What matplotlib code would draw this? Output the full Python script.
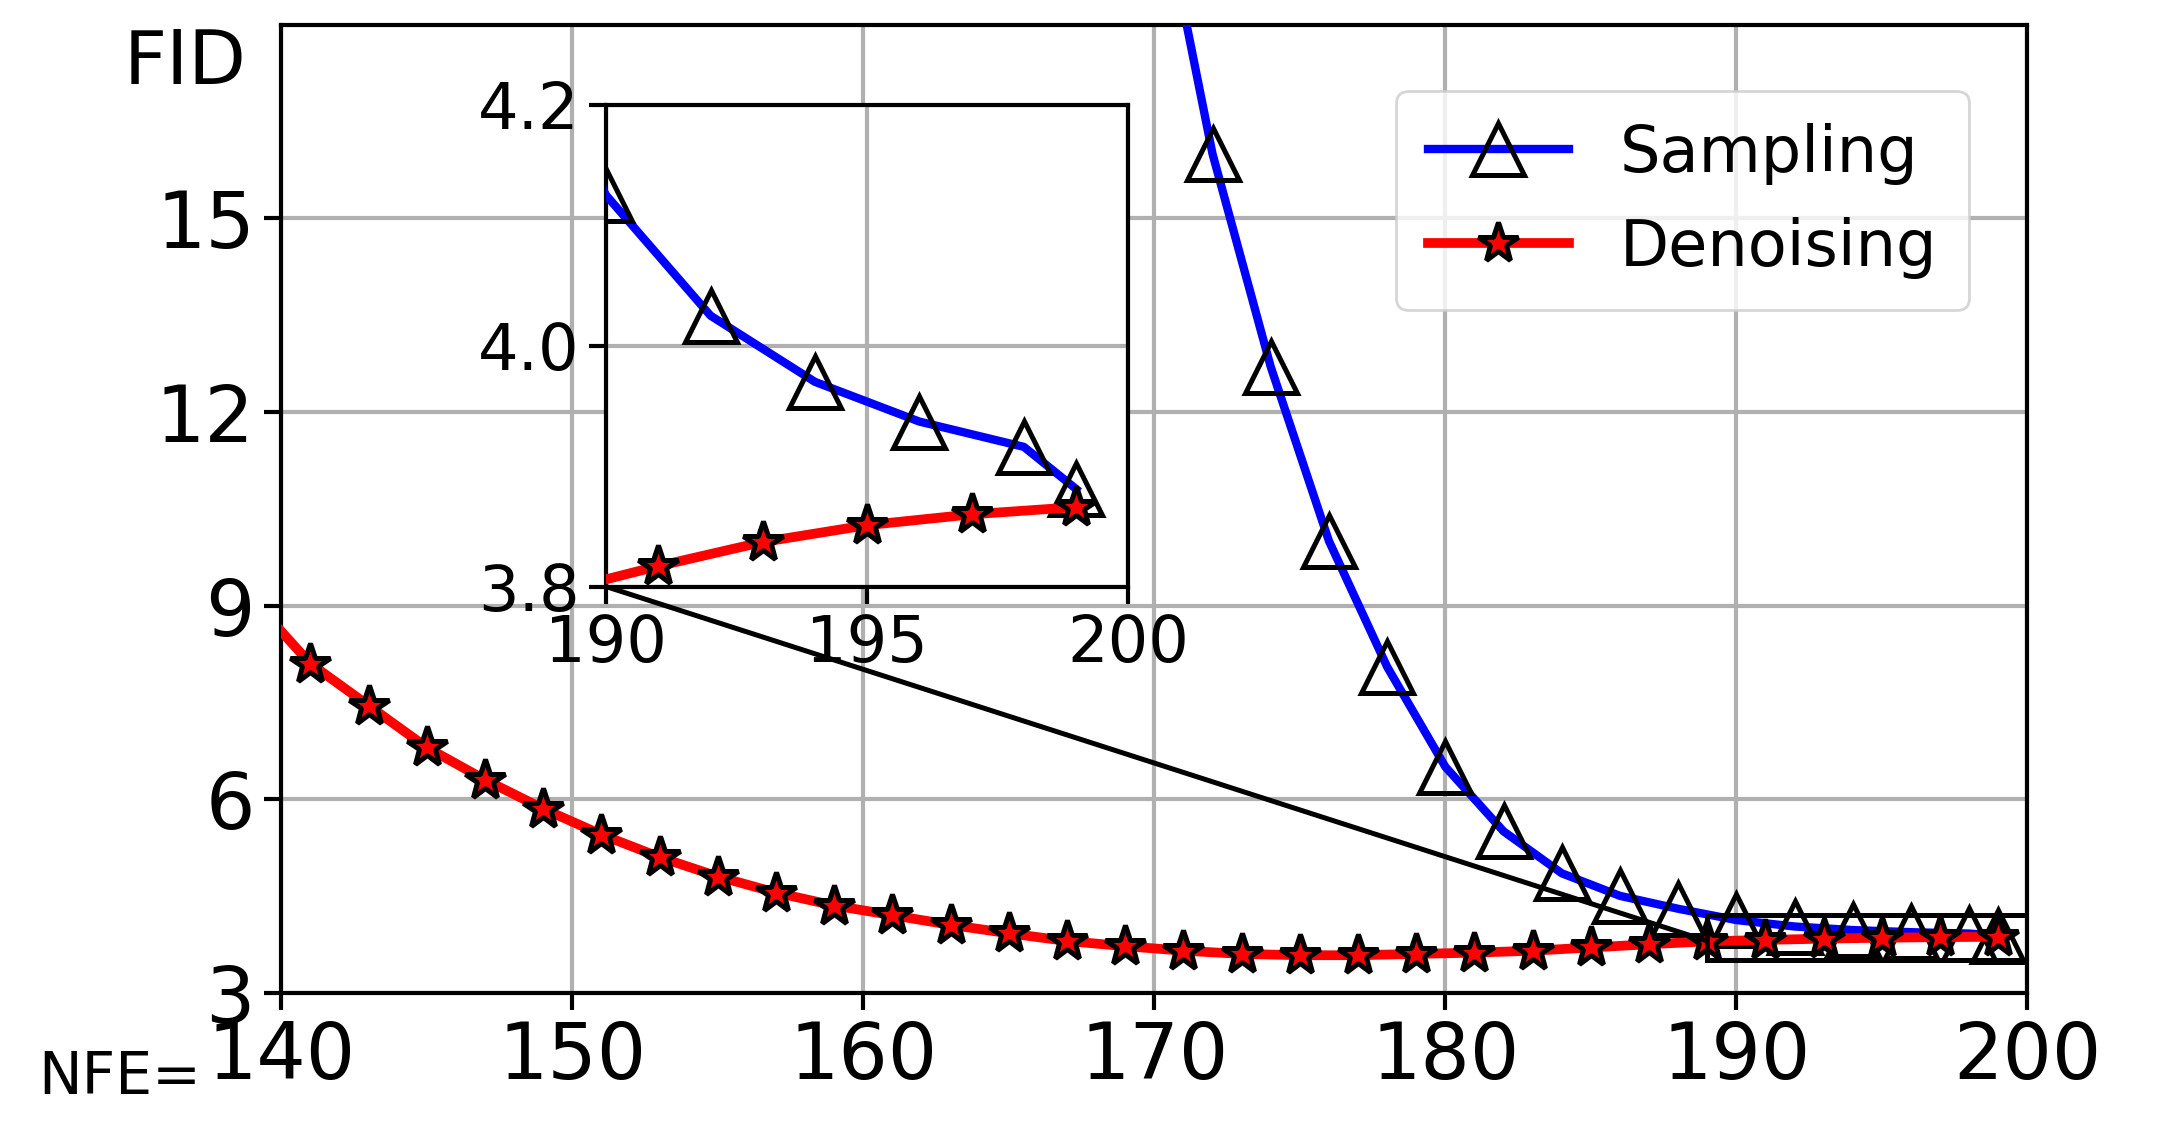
import matplotlib
matplotlib.use("Agg")
import matplotlib.pyplot as plt
from matplotlib.patches import Rectangle, ConnectionPatch

den_x = [140, 141, 143, 145, 147, 149, 151, 153, 155, 157, 159, 161, 163, 165, 167, 169,
         171, 173, 175, 177, 179, 181, 183, 185, 187, 189, 191, 193, 195, 197, 199]
den_y = [8.6, 8.1, 7.45, 6.8, 6.3, 5.85, 5.45, 5.1, 4.8, 4.55, 4.35, 4.2, 4.05, 3.92, 3.8, 3.72,
         3.65, 3.6, 3.58, 3.58, 3.6, 3.62, 3.65, 3.7, 3.75, 3.795, 3.817, 3.837, 3.851, 3.86, 3.866]
samp_x = [170, 172, 174, 176, 178, 180, 182, 184, 186, 188, 190, 192, 194, 196, 198, 199]
samp_y = [20.5, 16.0, 12.7, 10.0, 8.05, 6.5, 5.5, 4.85, 4.5, 4.3, 4.125, 4.025, 3.97, 3.937, 3.916, 3.881]
xticks = [140, 150, 160, 170, 180, 190, 200]
xticklabels = ["140", "150", "160", "170", "180", "190", "200"]
yticks = [3, 6, 9, 12, 15]

fig = plt.figure(figsize=(10.9, 5.64), dpi=200)
ax = fig.add_axes([0.129, 0.12, 0.801, 0.858])

def draw(a, ms_t, ms_s):
    a.plot(samp_x, samp_y, color="blue", lw=3, marker="^", ms=ms_t, mfc="none", mec="black",
           mew=1.8, markevery=slice(1, None), label="Sampling", zorder=3)
    a.plot(den_x, den_y, color="red", lw=3.5, marker="*", ms=ms_s, mfc="red", mec="black",
           mew=1.8, markevery=slice(1, None), label="Denoising", zorder=3)

draw(ax, 19, 15)
ax.set_xlim(140, 200)
ax.set_ylim(3, 18)
ax.set_xticks(xticks)
ax.set_xticklabels(xticklabels)
ax.set_yticks(yticks)
ax.tick_params(labelsize=28, width=1.5, length=6)
ax.grid(True, color="#b0b0b0", lw=1.5)
for s in ax.spines.values():
    s.set_linewidth(1.5)
ax.text(-0.02, 0.96, "FID", transform=ax.transAxes, ha="right", va="center", fontsize=27)
ax.text(-0.046, -0.088, "NFE=", transform=ax.transAxes, ha="right", va="center", fontsize=21)
leg = ax.legend(loc="upper right", fontsize=23, borderpad=0.5, handlelength=2.2, framealpha=0.8,
                bbox_to_anchor=(0.985, 0.965))

axins = fig.add_axes([0.278, 0.48, 0.2396, 0.427])
draw(axins, 19, 15)
axins.set_xlim(190, 200)
axins.set_ylim(3.8, 4.2)
axins.set_xticks([190, 195, 200])
axins.set_yticks([3.8, 4.0, 4.2])
axins.tick_params(labelsize=23, width=1.5, length=6)
axins.grid(True, color="#b0b0b0", lw=1.5)
for s in axins.spines.values():
    s.set_linewidth(1.5)

rect = Rectangle((189.0, 3.5), 11.0, 0.7, fill=False, ec="black", lw=1.8, zorder=5)
ax.add_patch(rect)
con = ConnectionPatch(xyA=(190, 3.8), coordsA=axins.transData, xyB=(189.0, 3.8),
                      coordsB=ax.transData, color="black", lw=1.8)
fig.add_artist(con)

fig.savefig("out.png", dpi=200)
